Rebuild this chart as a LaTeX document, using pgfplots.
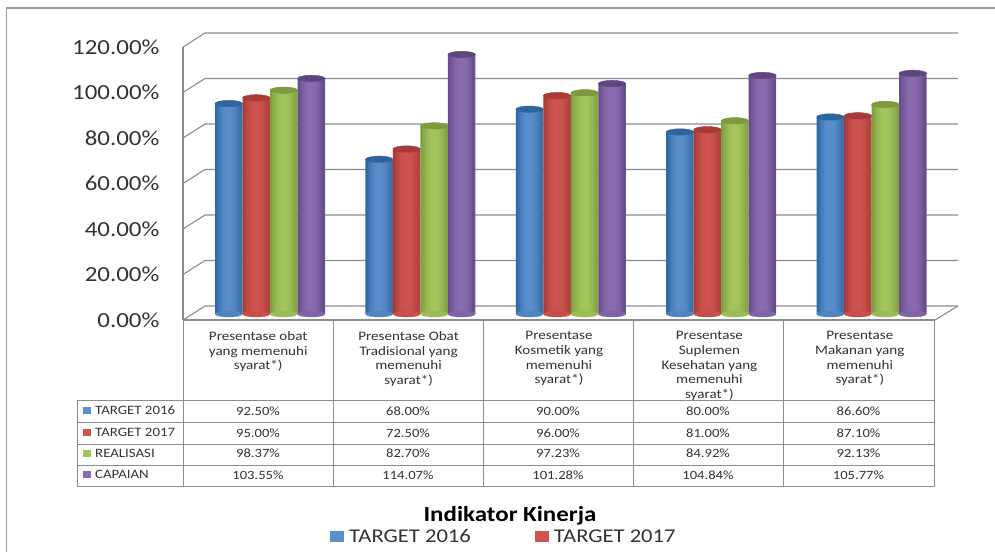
\documentclass[border=0pt]{standalone}
\usepackage{fontspec}
\setmainfont[FakeStretch=1.16]{Carlito}
\usepackage{pgfplots}
\usepackage{pgfplotstable}
\pgfplotsset{compat=1.18}

\definecolor{gridc}{HTML}{8C8C8C}
\definecolor{framec}{HTML}{9A9A9A}
\definecolor{txt}{HTML}{333333}
\definecolor{bluem}{HTML}{5A8FCC}\definecolor{bluel}{HTML}{2F68A6}\definecolor{bluer}{HTML}{3D6FA8}\definecolor{bluet}{HTML}{2F659F}
\definecolor{redm}{HTML}{D0544F}\definecolor{redl}{HTML}{A83B38}\definecolor{redr}{HTML}{B0423F}\definecolor{redt}{HTML}{A83A37}
\definecolor{greenm}{HTML}{A3C65C}\definecolor{greenl}{HTML}{7FA040}\definecolor{greenr}{HTML}{86A647}\definecolor{greent}{HTML}{7C9A3E}
\definecolor{purplem}{HTML}{8A6DB0}\definecolor{purplel}{HTML}{684C8C}\definecolor{purpler}{HTML}{6A4F8E}\definecolor{purplet}{HTML}{5F4680}

% base and top ellipse of a cylinder, one pair for each colour
\newcommand\cylmarks[1]{%
  \pgfdeclareplotmark{base#1}{\fill[#1m!70!#1r] (canvas cs:x=0pt,y=0pt) ellipse (13.5pt and 3pt);}%
  \pgfdeclareplotmark{top#1}{\fill[#1t] (canvas cs:x=0pt,y=0pt) ellipse (13.75pt and 3.2pt);}%
}
\cylmarks{blue}\cylmarks{red}\cylmarks{green}\cylmarks{purple}

% one vertical strip of a cylinder: y column, x offset as pt expression, colour
\newcommand\strip[3]{%
  \addplot[forget plot,ybar,bar width=3.3pt,bar shift=0pt,draw=none,xshift=#2,yshift=6pt,fill=#3]
    table[x=idx,y=#1] {\kinerja};
}
% one cylinder series: colour, x offset in pt, y column
% a shaded bar comes out flat, so the roundness is built from strips
\newcommand\cylseries[3]{%
  \addplot[ybar,bar width=3.3pt,bar shift=0pt,draw=none,xshift=#2pt,yshift=6pt,fill=#1m,
    legend image code/.code={\fill[#1m] (canvas cs:x=0pt,y=-11pt) rectangle (canvas cs:x=14pt,y=0pt);}]
    table[x=idx,y=#3] {\kinerja};
  \strip{#3}{#2pt-12.1pt}{#1l}
  \strip{#3}{#2pt-10pt}{#1m!30!#1l}
  \strip{#3}{#2pt-7.5pt}{#1m!60!#1l}
  \strip{#3}{#2pt-5pt}{#1m!82!#1l}
  \strip{#3}{#2pt-2.5pt}{#1m!95!#1l}
  \strip{#3}{#2pt+2.5pt}{#1m!95!#1r}
  \strip{#3}{#2pt+5pt}{#1m!82!#1r}
  \strip{#3}{#2pt+7.5pt}{#1m!60!#1r}
  \strip{#3}{#2pt+10pt}{#1m!30!#1r}
  \strip{#3}{#2pt+12.1pt}{#1r}
  \addplot[forget plot,only marks,mark=base#1] table[x expr=\thisrow{idx}+#2/150.4,y expr=2.637] {\kinerja};
  \addplot[forget plot,only marks,mark=top#1] table[x expr=\thisrow{idx}+#2/150.4,y expr=\thisrow{#3}+2.637] {\kinerja};
}

\pgfplotstableread{
idx t2016 t2017 real capai
0 92.50 95.00 98.37 103.55
1 68.00 72.50 82.70 114.07
2 90.00 96.00 97.23 101.28
3 80.00 81.00 84.92 104.84
4 86.60 87.10 92.13 105.77
}\kinerja

\begin{document}
\begin{tikzpicture}[x=1pt,y=1pt]
\path[use as bounding box,fill=white] (0,0) rectangle (995,552);
% picture frame and the walls of the 3D box, in pixels from the top left
\begin{scope}[yshift=552pt,y=-1pt]
  \draw[framec,line width=1.6pt] (6.5,552) -- (6.5,8) -- (995,8);
  \foreach \y in {33,78.5,124,169.5,215,260.5,306}{
    \draw[gridc,line width=1.1pt] (183,\y+14) -- (205,\y) -- (958,\y);
  }
  \draw[gridc,line width=1.1pt] (935,320) -- (958,306);
  % table
  \draw[gridc,line width=1pt] (183,320) -- (183,486);
  \foreach \x in {333,483,633,783,934}{\draw[gridc,line width=1pt] (\x,320) -- (\x,486);}
  \draw[gridc,line width=1pt] (77,400) rectangle (934,486);
  \foreach \y in {422,444,465}{\draw[gridc,line width=1pt] (77,\y) -- (934,\y);}
  \foreach \y/\c/\t in {410/blue/TARGET 2016,432/red/TARGET 2017,453/green/REALISASI,474/purple/CAPAIAN}{
    \fill[\c m] (83,\y-3.5) rectangle (91,\y+3.5);
    \node[anchor=west,inner sep=0pt,text=txt,font=\fontsize{12.8}{13}\selectfont] at (95,\y) {\t};
  }
  \foreach \x/\a/\b/\c/\d [count=\i] in {258/92.50/95.00/98.37/103.55,408/68.00/72.50/82.70/114.07,558/90.00/96.00/97.23/101.28,708/80.00/81.00/84.92/104.84,858.5/86.60/87.10/92.13/105.77}{
    \node[text=txt,font=\fontsize{12.6}{13}\selectfont] at (\x,411) {\a\%};
    \node[text=txt,font=\fontsize{12.6}{13}\selectfont] at (\x,433) {\b\%};
    \node[text=txt,font=\fontsize{12.6}{13}\selectfont] at (\x,453.5) {\c\%};
    \node[text=txt,font=\fontsize{12.6}{13}\selectfont] at (\x,475) {\d\%};
  }
  \node[font=\bfseries\fontsize{21.5}{22}\selectfont,text=black] at (510,516) {Indikator Kinerja};
\end{scope}
\begin{axis}[
  at={(183pt,232pt)},anchor=south west,
  scale only axis,width=752pt,height=273pt,
  xmin=-0.5,xmax=4.5,ymin=0,ymax=120,
  clip=false,
  axis x line*=bottom,axis y line*=left,
  axis line style={gridc,line width=1.1pt,-},
  tick style={draw=none},major tick length=0pt,
  ytick={0,20,40,60,80,100,120},
  yticklabel={\pgfmathprintnumber{\tick}\%},
  yticklabel style={/pgf/number format/.cd,fixed,fixed zerofill,precision=2,assume math mode=true,
    /tikz/.cd,xshift=-20pt,text=txt,font=\fontsize{21.5}{22}\selectfont},
  xtick={0,1,2,3,4},
  xticklabels={{Presentase obat\\yang memenuhi\\syarat*)},
    {Presentase Obat\\Tradisional yang\\memenuhi\\syarat*)},
    {Presentase\\Kosmetik yang\\memenuhi\\syarat*)},
    {Presentase\\Suplemen\\Kesehatan yang\\memenuhi\\syarat*)},
    {Presentase\\Makanan yang\\memenuhi\\syarat*)}},
  xticklabel style={align=center,anchor=north,yshift=-8pt,text=txt,
    font=\fontsize{13}{14.6}\selectfont},
  legend columns=2,
  legend style={at={(rel axis cs:0.1915,-0.795)},anchor=west,draw=none,fill=none,
    font=\fontsize{19.5}{20}\selectfont,text=txt,
    /tikz/every odd column/.append style={column sep=3pt},
    /tikz/every even column/.append style={column sep=62pt}},
]
\cylseries{blue}{-29.45}{t2016}
\addlegendentry{TARGET 2016}
\cylseries{red}{-1.95}{t2017}
\addlegendentry{TARGET 2017}
\cylseries{green}{25.55}{real}
\cylseries{purple}{53.05}{capai}
\end{axis}
\end{tikzpicture}
\end{document}
